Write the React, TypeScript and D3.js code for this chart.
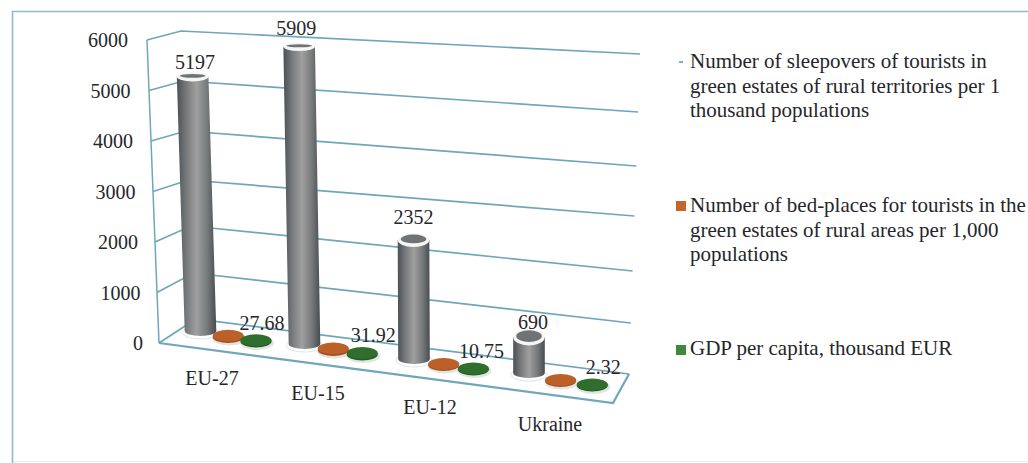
import React from "react";
import * as d3 from "d3";

// Chart values
const categories = ["EU-27", "EU-15", "EU-12", "Ukraine"];
const sleepovers = [5197, 5909, 2352, 690];
const bedPlaces = [24, 28, 11, 2];
const gdpPerCapita = [27.68, 31.92, 10.75, 2.32];
const valueTicks = [0, 1000, 2000, 3000, 4000, 5000, 6000];
const legendEntries = [
  ["Number of sleepovers of tourists in", "green estates of rural territories per 1", "thousand populations"],
  ["Number of bed-places for tourists in the", "green estates of rural areas per 1,000", "populations"],
  ["GDP per capita, thousand EUR"],
];

// Perspective layout of the 3D box
const W = 1028;
const H = 463;
const idx = [0, 1, 2, 3];
const baseX = d3.scaleLinear().domain(idx).range([200.5, 304.5, 414, 529]);
const baseY = d3.scaleLinear().domain(idx).range([331, 344, 359, 373]);
const pxPerUnit = d3.scaleLinear().domain(idx).range([0.0489, 0.0503, 0.0506, 0.052]);
const lean = d3.scaleLinear().domain(idx).range([-0.031, -0.018, -0.004, 0]);
const depthScale = d3.scaleLinear().domain(idx).range([1, 1.04, 1.07, 1.14]);
const labelX = d3.scaleLinear().domain(idx).range([212, 318, 430, 550]);
const labelY = d3.scaleLinear().domain(idx).range([378, 393, 407, 424]);
const capRy = d3.scaleLinear().domain([50, 345]).range([3.2, 7.5]);

const frontX = d3.scaleLinear().domain([0, 6000]).range([159, 147]);
const frontY = d3.scaleLinear().domain([0, 6000]).range([343, 40]);
const tickRight = d3.scaleLinear().domain([0, 6000]).range([143, 128]);
const backLeftX = d3.scaleLinear().domain([0, 6000]).range([196, 181]);
const backLeftY = d3.scaleLinear().domain(valueTicks).range([319, 273, 226, 180, 131, 81, 31]);
const backRightX = d3.scaleLinear().domain([0, 6000]).range([629, 640]);
const backRightY = d3.scaleLinear().domain(valueTicks).range([374, 323, 271, 216, 166, 112, 54]);

const sleepLabelOffset = [[2.5, -15], [-3, -19], [0, -23], [4, -15]];
const gdpLabelOffset = [[6, -19], [11, -20], [8, -19], [11, -19]];

const RX = 15.8;
const serif = "'Liberation Serif', serif";
const ink = "#26262a";
const gridColor = "#6fa6bc";
const labelSize = 20;
const legendSize = 21;

function Cylinder({ i, value }: { i: number; value: number }) {
  const h = value * pxPerUnit(i);
  const bx = baseX(i);
  const by = baseY(i);
  const tx = bx + h * lean(i);
  const ty = by - h;
  const ry = capRy(ty);
  const body = d3.path();
  body.moveTo(tx - RX, ty);
  body.lineTo(bx - RX, by);
  const shape = `${body.toString()} A${RX},5 0 0 0 ${bx + RX},${by} L${tx + RX},${ty} Z`;
  return (
    <g>
      <ellipse cx={bx} cy={by + 1.5} rx={RX + 2.5} ry={6.5} fill="#fff" stroke="#dfe6ea" strokeWidth={1} />
      <path d={shape} fill="url(#cyl)" />
      <ellipse cx={tx} cy={ty} rx={RX} ry={ry + 1} fill="#f6f6f4" />
      <ellipse cx={tx} cy={ty - 1} rx={RX - 3} ry={Math.max(ry - 1.6, 1.2)} fill="#6f7376" />
    </g>
  );
}

function Disc({ i, series, value, fill, rim }: { i: number; series: number; value: number; fill: string; rim: string }) {
  const dx = [0, 27.7, 55.5][series] * depthScale(i);
  const dy = [0, 6, 10.5][series] + (i === 3 ? 2 : 0);
  const cx = baseX(i) + dx;
  const cy = baseY(i) + dy;
  const h = Math.max(value * pxPerUnit(i), 1);
  return (
    <g>
      <ellipse cx={cx + 1} cy={cy + 1.5} rx={17} ry={7} fill="#c9cfc9" opacity={0.55} />
      <ellipse cx={cx} cy={cy} rx={15.5} ry={6} fill={rim} />
      <ellipse cx={cx} cy={cy - h} rx={15.5} ry={6} fill={fill} />
    </g>
  );
}

export default function App() {
  const gridPath = (v: number) => {
    const line = d3.line();
    return line([
      [frontX(v), frontY(v)],
      [backLeftX(v), backLeftY(v)],
      [backRightX(v), backRightY(v)],
    ]) as string;
  };
  const floor = d3.line()([
    [frontX(0), frontY(0)],
    [613, 403],
    [backRightX(0), backRightY(0)],
  ]) as string;
  const wallEdge = d3.line()([
    [frontX(0), frontY(0)],
    [frontX(6000), frontY(6000)],
  ]) as string;

  const legendLine = [62, 206, 349];
  return (
    <svg
      width={W}
      height={H}
      viewBox={`0 0 ${W} ${H}`}
      style={{ position: "absolute", left: 0, top: 0, background: "#fff" }}
      fontFamily={serif}
    >
      <defs>
        <linearGradient id="cyl" x1="0" x2="1" y1="0" y2="0">
          <stop offset="0" stopColor="#4c5053" />
          <stop offset="0.22" stopColor="#747779" />
          <stop offset="0.5" stopColor="#a09f9f" />
          <stop offset="0.78" stopColor="#757879" />
          <stop offset="1" stopColor="#484c4f" />
        </linearGradient>
      </defs>

      {/* outer frame */}
      <path d={`M${W},11.5 H12.5 V${H}`} fill="none" stroke="#8fbacb" strokeWidth={1.6} />
      <line x1={13} x2={W} y1={461.5} y2={461.5} stroke="#ececec" strokeWidth={1} />

      {/* walls and gridlines */}
      <path d={wallEdge} fill="none" stroke={gridColor} strokeWidth={1.5} />
      {valueTicks.map((v) => (
        <path key={v} d={gridPath(v)} fill="none" stroke={gridColor} strokeWidth={1.7} />
      ))}
      <path d={floor} fill="none" stroke={gridColor} strokeWidth={2.2} />

      {/* value axis labels */}
      {valueTicks.map((v) => (
        <text key={v} x={tickRight(v)} y={frontY(v) + 7} textAnchor="end" fontSize={labelSize} fill={ink}>
          {v}
        </text>
      ))}

      {/* marks, back to front within each category */}
      {categories.map((c, i) => (
        <g key={c}>
          <Cylinder i={i} value={sleepovers[i]} />
          <Disc i={i} series={1} value={bedPlaces[i]} fill="#bd5f28" rim="#a04e20" />
          <Disc i={i} series={2} value={gdpPerCapita[i]} fill="#2f6e2c" rim="#255a24" />
        </g>
      ))}

      {/* data labels */}
      {categories.map((c, i) => {
        const h = sleepovers[i] * pxPerUnit(i);
        const tx = baseX(i) + h * lean(i) + sleepLabelOffset[i][0];
        const ty = baseY(i) - h + sleepLabelOffset[i][1] + 7;
        const gx = baseX(i) + 55.5 * depthScale(i) + gdpLabelOffset[i][0];
        const gy = baseY(i) + 10.5 + (i === 3 ? 2 : 0) + gdpLabelOffset[i][1] + 7;
        return (
          <g key={c} fontSize={labelSize} fill={ink} textAnchor="middle">
            <text x={tx} y={ty}>{sleepovers[i]}</text>
            <text x={gx} y={gy}>{gdpPerCapita[i]}</text>
          </g>
        );
      })}

      {/* category labels */}
      {categories.map((c, i) => (
        <text key={c} x={labelX(i)} y={labelY(i) + 7} textAnchor="middle" fontSize={labelSize} fill={ink}>
          {c}
        </text>
      ))}

      {/* legend */}
      <rect x={679} y={61} width={4} height={2} fill="#7fb0c4" />
      <rect x={676} y={201} width={10} height={10} fill="#c4662c" />
      <rect x={676} y={345} width={10} height={10} fill="#3f8a3a" />
      {legendEntries.map((lines, k) =>
        lines.map((t, j) => (
          <text key={t} x={690} y={legendLine[k] + j * 24.5 + 6} fontSize={legendSize} fill={ink}>
            {t}
          </text>
        ))
      )}
    </svg>
  );
}
